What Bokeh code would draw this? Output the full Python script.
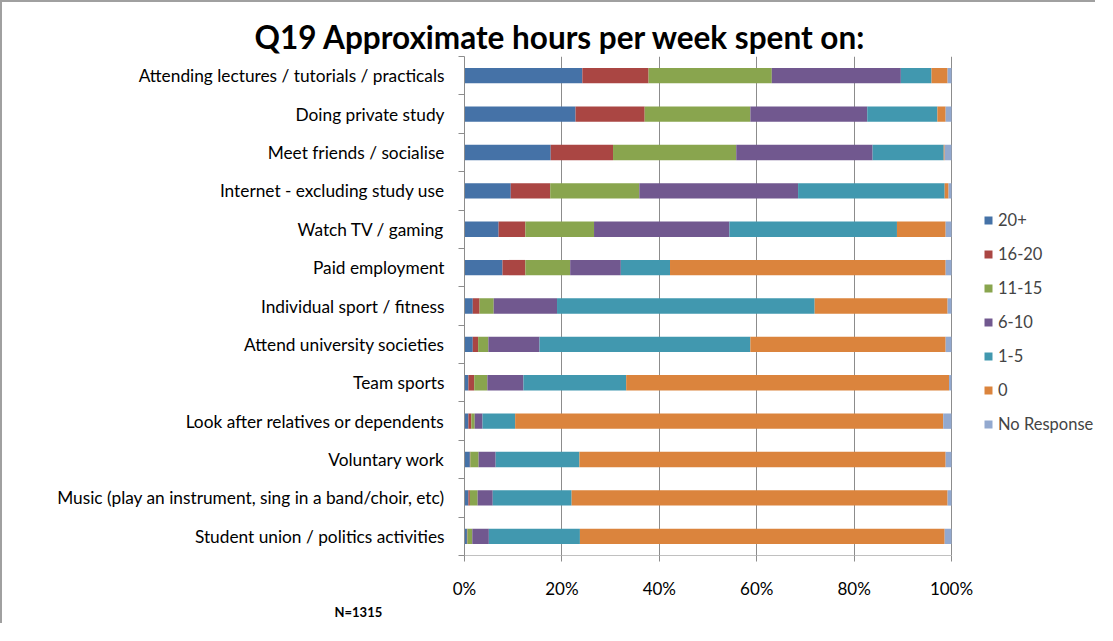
from bokeh.plotting import figure
from bokeh.models import (ColumnDataSource, Range1d, FixedTicker, NumeralTickFormatter,
                          Legend, LegendItem, Title)
from bokeh.embed import file_html
from bokeh.resources import INLINE

categories = [
    "Attending lectures / tutorials / practicals",
    "Doing private study",
    "Meet friends / socialise",
    "Internet - excluding study use",
    "Watch TV / gaming",
    "Paid employment",
    "Individual sport / fitness",
    "Attend university societies",
    "Team sports",
    "Look after relatives or dependents",
    "Voluntary work",
    "Music (play an instrument, sing in a band/choir, etc)",
    "Student union / politics activities",
]

series_labels = ["20+", "16-20", "11-15", "6-10", "1-5", "0", "No Response"]

# percentages per category (top to bottom)
h20plus = [24.2, 22.8, 17.7, 9.5, 7.0, 7.8, 1.7, 1.7, 0.8, 0.8, 1.1, 0.8, 0.5]
h16_20 = [13.6, 14.2, 12.8, 8.1, 5.5, 4.7, 1.4, 1.1, 1.2, 0.6, 0.1, 0.3, 0.1]
h11_15 = [25.3, 21.7, 25.3, 18.3, 14.1, 9.2, 2.9, 2.1, 2.7, 0.7, 1.7, 1.6, 1.0]
h6_10 = [26.5, 24.0, 28.0, 32.6, 27.8, 10.4, 13.0, 10.5, 7.4, 1.6, 3.5, 3.1, 3.4]
h1_5 = [6.3, 14.4, 14.6, 30.1, 34.4, 10.1, 52.9, 43.3, 21.1, 6.7, 17.2, 16.2, 18.7]
h0 = [3.3, 1.7, 0.2, 0.8, 10.0, 56.6, 27.3, 40.1, 66.3, 87.9, 75.2, 77.2, 74.9]
no_response = [0.8, 1.2, 1.4, 0.6, 1.2, 1.2, 0.8, 1.2, 0.5, 1.7, 1.2, 0.8, 1.4]

x_ticks = [0, 0.2, 0.4, 0.6, 0.8, 1.0]

colors = ["#4572A7", "#AA4643", "#89A54E", "#71588F", "#4198AF", "#DB843D", "#93A9CF"]
keys = ["s20plus", "s16_20", "s11_15", "s6_10", "s1_5", "s0", "snr"]
series_values = [h20plus, h16_20, h11_15, h6_10, h1_5, h0, no_response]

n = len(categories)
data = {"pos": list(range(n))}
for k, vals in zip(keys, series_values):
    data[k] = [v / 100.0 for v in vals]
source = ColumnDataSource(data=data)

FONT = "Lato"
GRID = "#8c8c8c"
FS = "17px"

# frame extends to the right edge so the legend (inside the frame) is not clipped;
# the 0-100% scale keeps its original width
p = figure(width=1095, height=623, output_backend="svg", toolbar_location=None,
           x_range=Range1d(0, 1.2998), y_range=Range1d(n - 0.5, -0.5),
           min_border_left=462, min_border_right=0, min_border_top=54,
           min_border_bottom=70)
p.outline_line_color = None
p.styles = {"border-left": "2px solid #a0a0a0", "border-top": "2px solid #a0a0a0"}

renderers = p.hbar_stack(keys, y="pos", height=0.4, color=colors, source=source,
                         line_color=None)

xa = p.xaxis[0]
xa.bounds = (0, 1)
xa.ticker = FixedTicker(ticks=x_ticks)
xa.formatter = NumeralTickFormatter(format="0%")
xa.major_tick_out = 6
xa.major_tick_in = 0
xa.minor_tick_out = 0
xa.minor_tick_in = 0
xa.axis_line_color = "#c0c0c0"
xa.major_tick_line_color = GRID
xa.major_label_standoff = 16
xa.major_label_text_font = FONT
xa.major_label_text_font_size = FS
xa.major_label_text_color = "black"

ya = p.yaxis[0]
ya.ticker = FixedTicker(ticks=list(range(n)), minor_ticks=[i - 0.5 for i in range(n + 1)])
ya.major_label_overrides = {i: c for i, c in enumerate(categories)}
ya.major_tick_out = 0
ya.major_tick_in = 0
ya.minor_tick_out = 6
ya.minor_tick_in = 0
ya.minor_tick_line_color = GRID
ya.axis_line_color = GRID
ya.major_label_standoff = 14
ya.major_label_text_font = FONT
ya.major_label_text_font_size = "17.3px"
ya.major_label_text_color = "black"

p.xgrid.ticker = FixedTicker(ticks=x_ticks)
p.xgrid.grid_line_color = GRID
p.ygrid.grid_line_color = None

legend = Legend(items=[LegendItem(label=s, renderers=[r]) for s, r in zip(series_labels, renderers)],
                location=(519, 121), orientation="vertical", padding=0, margin=0, spacing=14,
                glyph_width=10, glyph_height=10, label_height=20, label_standoff=5,
                label_text_font=FONT, label_text_font_size="16.5px",
                border_line_color=None, background_fill_alpha=0)
p.add_layout(legend, "center")

p.add_layout(Title(text="Q19 Approximate hours per week spent on:", align="left",
                   offset=-210, text_font=FONT, text_font_style="bold",
                   text_font_size="31.5px", text_color="black", standoff=2), "above")
p.add_layout(Title(text="N=1315", align="left", offset=-130, text_font=FONT,
                   text_font_style="bold", text_font_size="13px", text_color="black",
                   standoff=0), "below")

open("out.html", "w").write(file_html(p, INLINE))
